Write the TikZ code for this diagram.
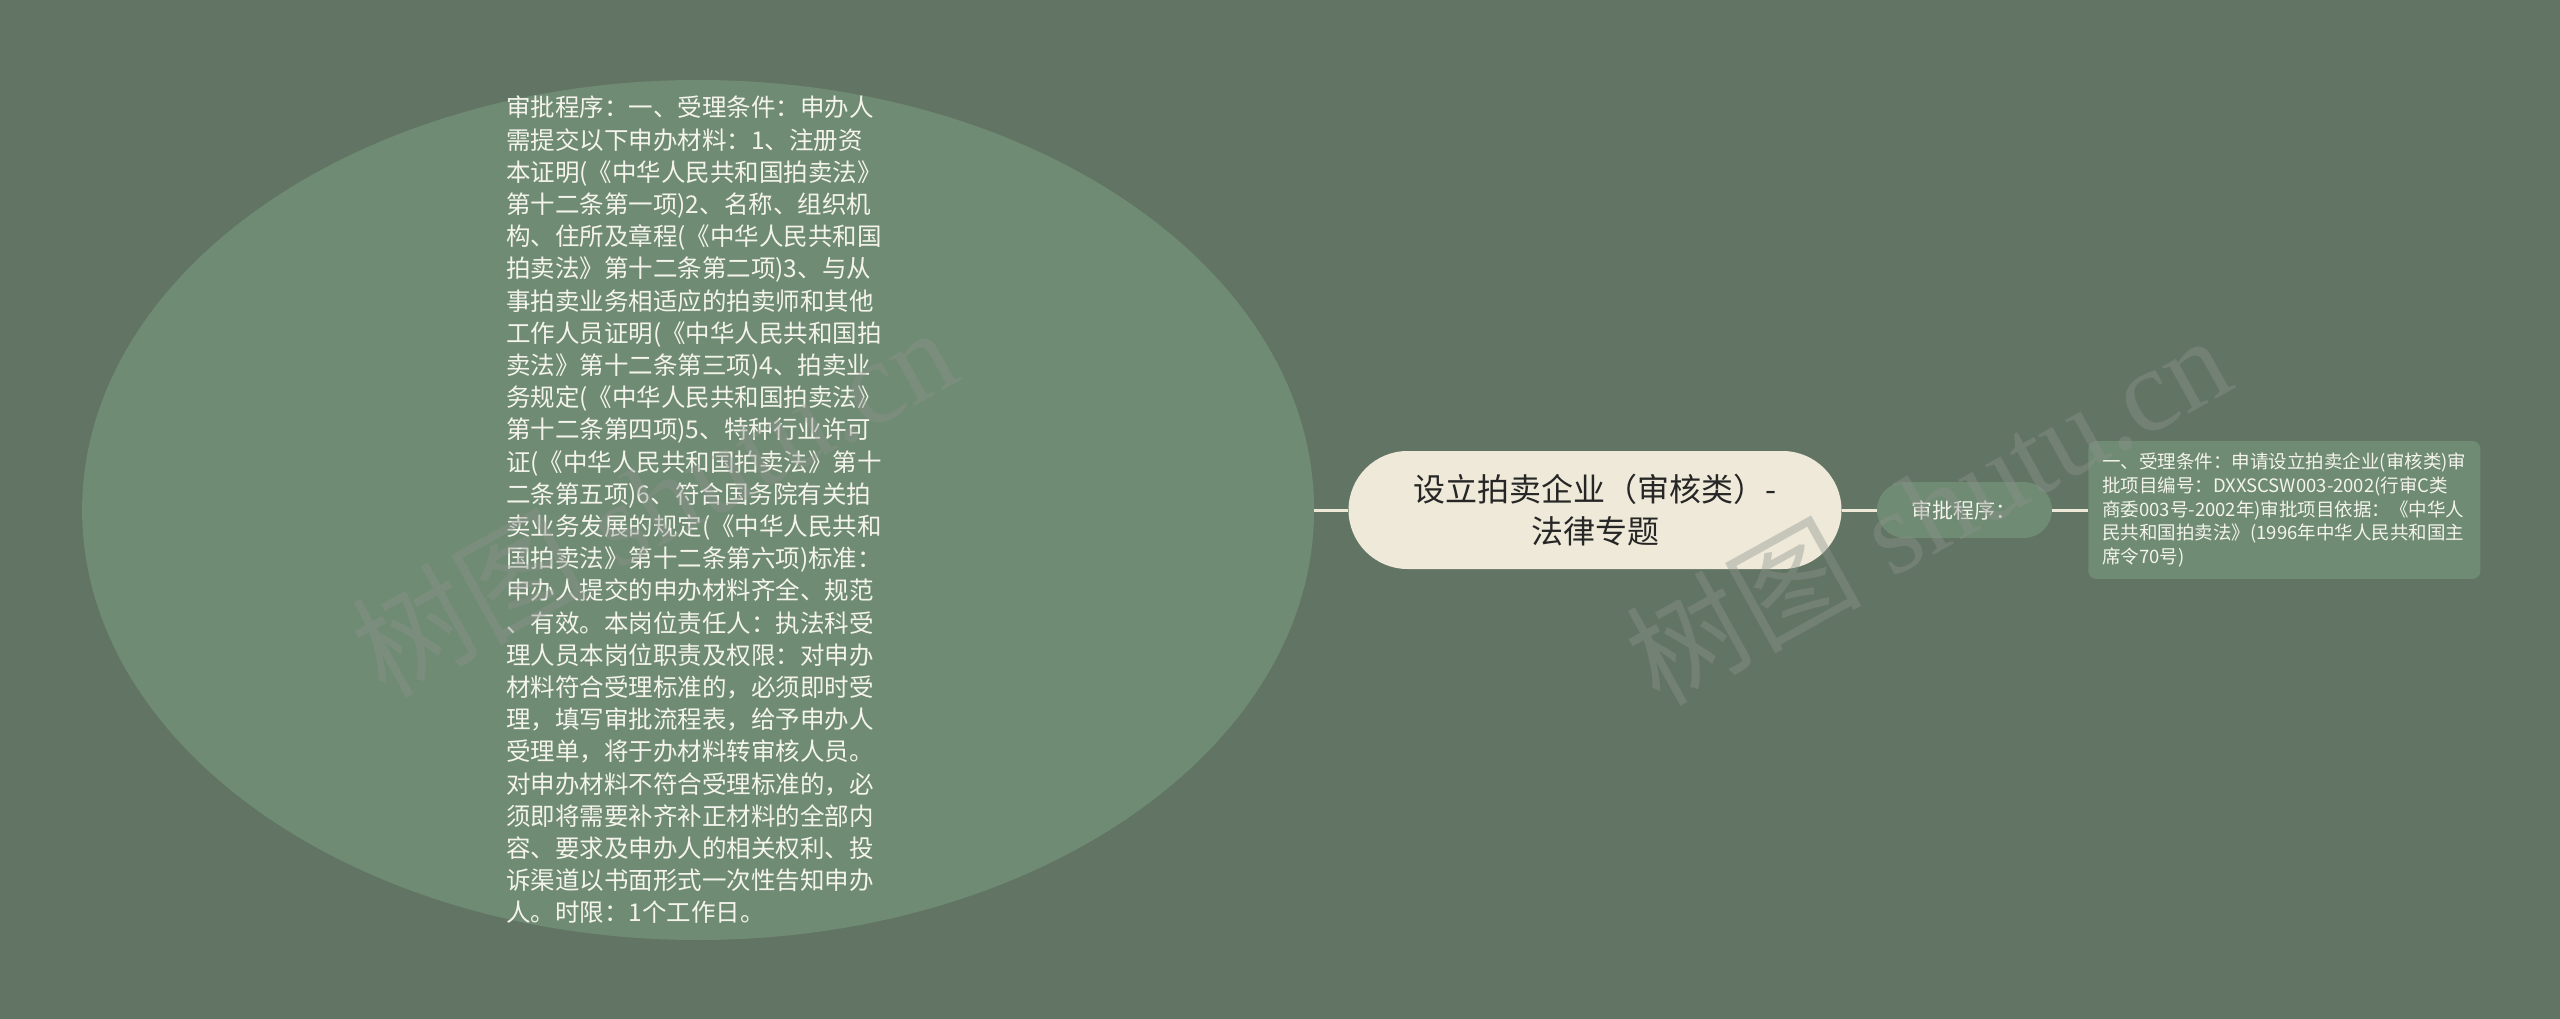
\documentclass[tikz,border=0pt]{standalone}
\usepackage{fontspec}
\setmainfont{Noto Sans CJK SC}
\newfontfamily\markfont{Liberation Serif}
\usetikzlibrary{shapes.geometric,positioning}
\definecolor{bgcol}{HTML}{627464}
\definecolor{nodegreen}{HTML}{6F8B73}
\definecolor{rootfill}{HTML}{EEE9D8}
\definecolor{linecol}{HTML}{EEE9D8}
\definecolor{textlight}{HTML}{F4F4EC}
\definecolor{roottext}{HTML}{262626}
\definecolor{markcol}{HTML}{8E938D}
\begin{document}
\begin{tikzpicture}[x=1pt,y=-1pt]
        \tikzstyle{root} = [rectangle, rounded corners=59pt, minimum width=493pt, minimum height=118pt, fill=rootfill, text=roottext, align=center, font=\fontsize{32}{42}\selectfont]
        \tikzstyle{branch} = [rectangle, rounded corners=28pt, minimum width=175pt, minimum height=56pt, fill=nodegreen, text=textlight, font=\fontsize{21}{24}\selectfont]
        \tikzstyle{leaf} = [rectangle, rounded corners=8pt, minimum width=392pt, minimum height=138pt, fill=nodegreen, text=textlight, align=left, font=\fontsize{18.5}{23.7}\selectfont]
        \tikzstyle{bubble} = [ellipse, minimum width=1232pt, minimum height=860pt, fill=nodegreen]
        \tikzstyle{bubbletext} = [text=textlight, align=left, font=\fontsize{24.5}{32.2}\selectfont]
        \tikzstyle{link} = [draw=linecol, line width=3pt]
        \tikzstyle{watermark} = [text=markcol, text opacity=0.4, font=\fontsize{118}{118}\selectfont, rotate=29]

                \fill[bgcol] (0,0) rectangle (2560,1019);
                \useasboundingbox (0,0) rectangle (2560,1019);

                \node (root) [root] at (1595,510) {设立拍卖企业（审核类）-\\法律专题};
                \node (detail) [bubble, left=34pt of root] {};
                \node (detailtxt) [bubbletext, xshift=-4pt] at (detail.center) {审批程序：一、受理条件：申办人\\需提交以下申办材料：1、注册资\\本证明(《中华人民共和国拍卖法》\\第十二条第一项)2、名称、组织机\\构、住所及章程(《中华人民共和国\\拍卖法》第十二条第二项)3、与从\\事拍卖业务相适应的拍卖师和其他\\工作人员证明(《中华人民共和国拍\\卖法》第十二条第三项)4、拍卖业\\务规定(《中华人民共和国拍卖法》\\第十二条第四项)5、特种行业许可\\证(《中华人民共和国拍卖法》第十\\二条第五项)6、符合国务院有关拍\\卖业务发展的规定(《中华人民共和\\国拍卖法》第十二条第六项)标准：\\申办人提交的申办材料齐全、规范\\、有效。本岗位责任人：执法科受\\理人员本岗位职责及权限：对申办\\材料符合受理标准的，必须即时受\\理，填写审批流程表，给予申办人\\受理单，将于办材料转审核人员。\\对申办材料不符合受理标准的，必\\须即将需要补齐补正材料的全部内\\容、要求及申办人的相关权利、投\\诉渠道以书面形式一次性告知申办\\人。时限：1个工作日。};
                \node (step) [branch, right=35pt of root] {审批程序：};
                \node (cond) [leaf, right=36pt of step] {一、受理条件：申请设立拍卖企业(审核类)审\\批项目编号：DXXSCSW003-2002(行审C类\\商委003号-2002年)审批项目依据：《中华人\\民共和国拍卖法》(1996年中华人民共和国主\\席令70号)};

                \draw[link] (detail.east) -- (root.west);
                \draw[link] (root.east) -- (step.west);
                \draw[link] (step.east) -- (cond.west);

                \node (markleft) [watermark] at (653,500) {树图\markfont\ shutu.cn};
                \node (markright) [watermark] at (1927,508) {树图\markfont\ shutu.cn};
    \end{tikzpicture}
\end{document}
